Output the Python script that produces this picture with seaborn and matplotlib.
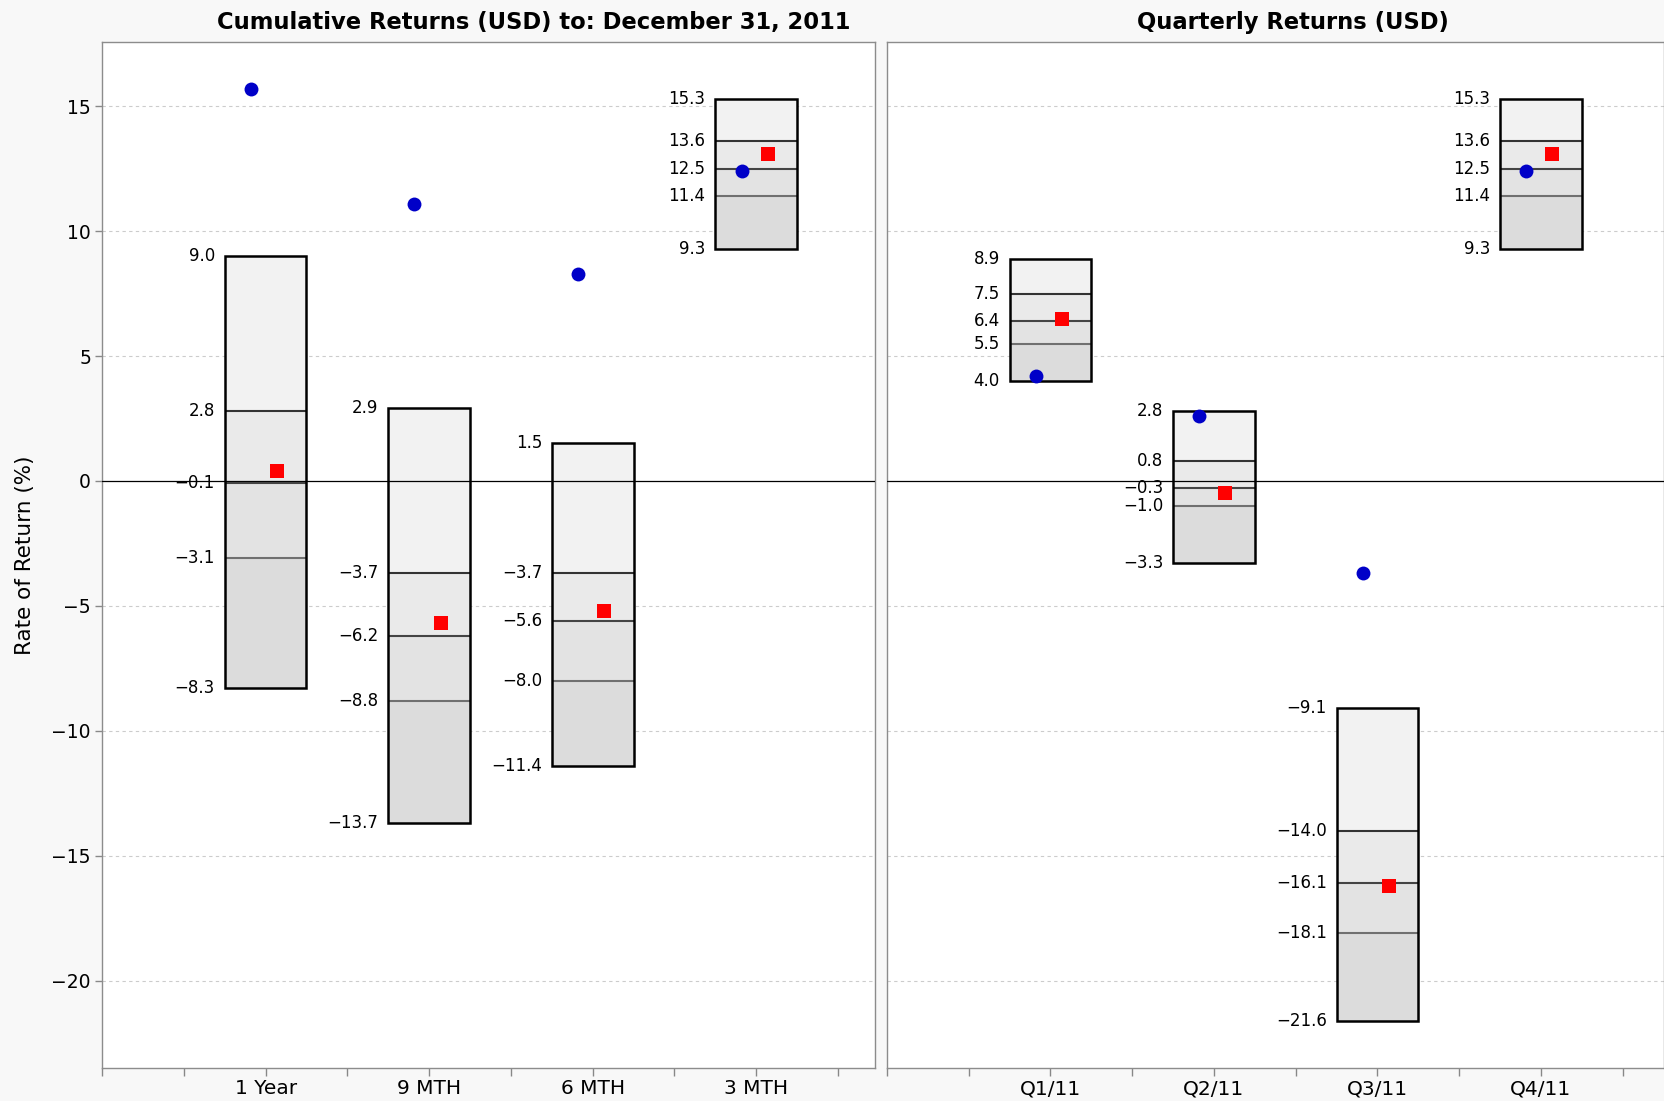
import numpy as np
import pandas as pd
import seaborn as sns
import matplotlib.pyplot as plt

# Cumulative returns: peer-group ranges (top, 1st quartile, median, 3rd quartile, bottom)
cum_periods = ['1 Year', '9 MTH', '6 MTH', '3 MTH']
cum_top = [9.0, 2.9, 1.5, 15.3]
cum_q1 = [2.8, -3.7, -3.7, 13.6]
cum_med = [-0.1, -6.2, -5.6, 12.5]
cum_q3 = [-3.1, -8.8, -8.0, 11.4]
cum_bottom = [-8.3, -13.7, -11.4, 9.3]
cum_fund = [15.7, 11.1, 8.3, 12.4]
cum_bench = [0.4, -5.7, -5.2, 13.1]

# Quarterly returns
qtr_periods = ['Q1/11', 'Q2/11', 'Q3/11', 'Q4/11']
qtr_top = [8.9, 2.8, -9.1, 15.3]
qtr_q1 = [7.5, 0.8, -14.0, 13.6]
qtr_med = [6.4, -0.3, -16.1, 12.5]
qtr_q3 = [5.5, -1.0, -18.1, 11.4]
qtr_bottom = [4.0, -3.3, -21.6, 9.3]
qtr_fund = [4.2, 2.6, -3.7, 12.4]
qtr_bench = [6.5, -0.5, -16.2, 13.1]

y_ticks = [-20, -15, -10, -5, 0, 5, 10, 15]

sns.set_style('white')
plt.rcParams['font.family'] = ['DejaVu Sans']
plt.rcParams['text.color'] = 'black'
plt.rcParams['axes.labelcolor'] = 'black'
plt.rcParams['xtick.color'] = 'black'
plt.rcParams['ytick.color'] = 'black'

fig = plt.figure(figsize=(16.65, 11.01), dpi=100, facecolor='#f8f8f8')
ax1 = fig.add_axes([0.0613, 0.030, 0.4643, 0.9314])
ax2 = fig.add_axes([0.5327, 0.030, 0.4667, 0.9314], sharey=ax1)

shades = ['#f2f2f2', '#eaeaea', '#e3e3e3', '#dcdcdc']
inner_colors = ['#333333', '#444444', '#707070']


def fmt(v):
  return f'{v:.1f}'.replace('-', '\u2212')


def draw_panel(ax, periods, top, q1, med, q3, bottom, fund, bench, title, title_x, xmax):
  x = np.arange(1, len(periods) + 1)
  levels = [np.array(top), np.array(q1), np.array(med), np.array(q3), np.array(bottom)]

  # grid and zero line
  for t in y_ticks:
    if t != 0:
      ax.axhline(t, color='#cccccc', lw=0.8, ls=(0, (3, 3)), zorder=0)
  ax.axhline(0, color='black', lw=0.9, zorder=3)

  # stacked shaded segments
  for i in range(4):
    ax.bar(x, levels[i] - levels[i + 1], bottom=levels[i + 1], width=0.5,
           color=shades[i], linewidth=0, zorder=2)
  for lev, c in zip(levels[1:4], inner_colors):
    ax.hlines(lev, x - 0.25, x + 0.25, color=c, lw=1.5, zorder=3)
  ax.bar(x, levels[0] - levels[4], bottom=levels[4], width=0.5, fill=False,
         edgecolor='black', linewidth=1.8, zorder=4)

  # value labels
  for lev in levels:
    for xi, v in zip(x, lev):
      ax.annotate(fmt(v), (xi - 0.25, v), xytext=(-7, 0), textcoords='offset points',
                  ha='right', va='center', fontsize=12, color='black', zorder=6)

  # fund and benchmark markers
  df_f = pd.DataFrame({'x': x - 0.09, 'y': fund})
  df_b = pd.DataFrame({'x': x + 0.07, 'y': bench})
  sns.scatterplot(data=df_f, x='x', y='y', ax=ax, color='#0000c8', marker='o',
                  s=100, linewidth=0, zorder=5, legend=False)
  sns.scatterplot(data=df_b, x='x', y='y', ax=ax, color='#ff0000', marker='s',
                  s=95, linewidth=0, zorder=5, legend=False)

  ax.set_xlim(0, xmax)
  ticks = np.arange(0, xmax, 0.5)
  ax.set_xticks(ticks)
  ax.set_xticklabels([periods[int(t) - 1] if t == int(t) and 1 <= t <= len(periods) else ''
                      for t in ticks], fontsize=14.5)
  ax.tick_params(axis='x', bottom=True, length=6, width=1, color='#888888',
                 labelcolor='black', pad=2)
  ax.set_xlabel('')
  ax.set_ylabel('')
  ax.set_facecolor('white')
  for s in ax.spines.values():
    s.set_color('#8c8c8c')
    s.set_linewidth(1.0)
  ax.set_title(title, x=title_x, fontsize=16.3, fontweight='bold', color='black', pad=10)


draw_panel(ax1, cum_periods, cum_top, cum_q1, cum_med, cum_q3, cum_bottom,
           cum_fund, cum_bench, 'Cumulative Returns (USD) to: December 31, 2011', 0.558, 4.727)
draw_panel(ax2, qtr_periods, qtr_top, qtr_q1, qtr_med, qtr_q3, qtr_bottom,
           qtr_fund, qtr_bench, 'Quarterly Returns (USD)', 0.523, 4.753)

ax1.set_ylim(-23.5, 17.55)
ax1.set_yticks(y_ticks)
ax1.set_yticklabels([str(t).replace('-', '\u2212') for t in y_ticks], fontsize=13.5)
ax1.tick_params(axis='y', left=True, length=5, width=1, color='#888888',
                labelcolor='black', pad=3)
ax1.set_ylabel('Rate of Return (%)', fontsize=15.5, labelpad=12, color='black')
ax2.tick_params(axis='y', left=False, labelleft=False)

fig.savefig('out.png', dpi=100, facecolor=fig.get_facecolor())
